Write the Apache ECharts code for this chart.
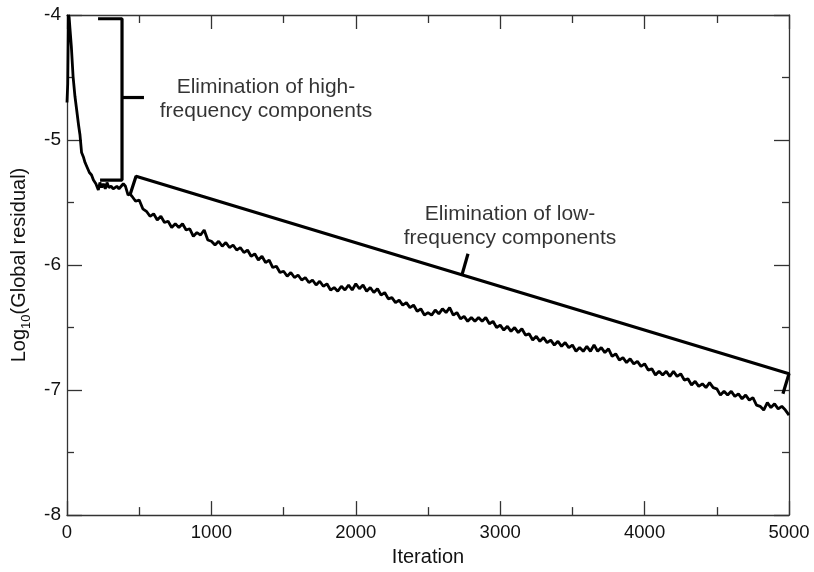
<!DOCTYPE html>
<html><head><meta charset="utf-8">
<script src="https://cdn.jsdelivr.net/npm/echarts@6/dist/echarts.min.js"></script>
<style>html,body{margin:0;padding:0;background:#fff}#c{width:814px;height:572px}</style>
</head><body><div id="c"></div>
<script>
// ---- data ----
const iterations = [0,5,10,15,20,30,42,55,66,80,90,101,115,125,140,155,170,183,200,217,228,240,252,265,277,290,305,320,332,345,360,375,390,405,423,437,
450,475,500,525,550,575,600,625,650,675,700,725,750,775,800,825,850,875,900,925,950,975,
1000,1025,1050,1075,1100,1125,1150,1175,1200,1225,1250,1275,1300,1325,1350,1375,1400,1425,1450,1475,1500,1525,1550,1575,1600,1625,1650,1675,1700,1725,1750,1775,1800,1825,1850,1875,1900,1925,1950,1975,
2000,2025,2050,2075,2100,2125,2150,2175,2200,2225,2250,2275,2300,2325,2350,2375,2400,2425,2450,2475,2500,2525,2550,2575,2600,2625,2650,2675,2700,2725,2750,2775,2800,2825,2850,2875,2900,2925,2950,2975,
3000,3025,3050,3075,3100,3125,3150,3175,3200,3225,3250,3275,3300,3325,3350,3375,3400,3425,3450,3475,3500,3525,3550,3575,3600,3625,3650,3675,3700,3725,3750,3775,3800,3825,3850,3875,3900,3925,3950,3975,
4000,4025,4050,4075,4100,4125,4150,4175,4200,4225,4250,4275,4300,4325,4350,4375,4400,4425,4450,4475,4500,4525,4550,4575,4600,4625,4650,4675,4700,4725,4750,4775,4800,4825,4850,4875,4900,4925,4950,4975,5000];
const residual = [-4.70,-4.55,-4.00,-4.02,-4.10,-4.25,-4.49,-4.65,-4.75,-4.88,-4.96,-5.10,-5.14,-5.18,-5.22,-5.26,-5.28,-5.32,-5.35,-5.40,-5.34,-5.38,-5.35,-5.39,-5.34,-5.38,-5.37,-5.39,-5.40,-5.37,-5.39,-5.37,-5.35,-5.37,-5.44,-5.43,
-5.45,-5.49,-5.48,-5.55,-5.57,-5.61,-5.59,-5.64,-5.61,-5.66,-5.65,-5.70,-5.67,-5.70,-5.67,-5.72,-5.71,-5.77,-5.74,-5.76,-5.72,-5.80,
-5.81,-5.84,-5.81,-5.85,-5.82,-5.86,-5.84,-5.88,-5.86,-5.90,-5.88,-5.93,-5.91,-5.96,-5.93,-5.98,-5.96,-6.02,-6.01,-6.06,-6.05,-6.09,-6.06,-6.10,-6.08,-6.12,-6.10,-6.14,-6.12,-6.16,-6.13,-6.17,-6.15,-6.20,-6.18,-6.21,-6.17,-6.20,-6.16,-6.20,
-6.15,-6.19,-6.16,-6.21,-6.18,-6.22,-6.19,-6.24,-6.22,-6.27,-6.26,-6.30,-6.28,-6.32,-6.30,-6.34,-6.32,-6.37,-6.35,-6.40,-6.38,-6.40,-6.36,-6.39,-6.35,-6.38,-6.34,-6.40,-6.38,-6.43,-6.41,-6.45,-6.42,-6.45,-6.42,-6.45,-6.42,-6.47,-6.45,-6.50,
-6.48,-6.52,-6.49,-6.53,-6.50,-6.54,-6.51,-6.56,-6.55,-6.60,-6.57,-6.61,-6.58,-6.62,-6.60,-6.64,-6.61,-6.65,-6.62,-6.66,-6.64,-6.69,-6.66,-6.69,-6.65,-6.69,-6.64,-6.69,-6.66,-6.70,-6.67,-6.73,-6.71,-6.76,-6.74,-6.78,-6.75,-6.79,-6.77,-6.81,
-6.79,-6.84,-6.83,-6.88,-6.85,-6.88,-6.85,-6.89,-6.85,-6.89,-6.87,-6.92,-6.91,-6.96,-6.93,-6.97,-6.95,-6.98,-6.94,-6.98,-6.99,-7.04,-7.01,-7.04,-7.01,-7.05,-7.03,-7.07,-7.04,-7.08,-7.06,-7.12,-7.13,-7.16,-7.10,-7.14,-7.11,-7.15,-7.13,-7.16,-7.20];

const xTicks = [0,1000,2000,3000,4000,5000];
const yTicks = [-8,-7,-6,-5,-4];

// annotation shapes (data coordinates)
const highBracket = [[215,-4.03],[381,-4.03],[381,-5.32],[229,-5.32]];
const highBracketTick = [[381,-4.66],[533,-4.66]];
const lowBracket = [[436,-5.44],[478,-5.29],[5000,-6.87],[4958,-7.03]];
const lowBracketTick = [[2735,-6.08],[2777,-5.91]];
const annotationTexts = ['Elimination of high-\nfrequency components','Elimination of low-\nfrequency components'];
const annotationAnchors = [[1378,-4.672],[3068,-5.688]];

const chart = echarts.init(document.getElementById('c'), null, {renderer:'canvas'});
const FONT = 'Liberation Sans, Arial, Helvetica, sans-serif';
const AX = '#333';
const lineData = iterations.map((v,i)=>[v,residual[i]]);

function axisCommon(){
  return {
    axisLine:{show:true,onZero:false,lineStyle:{color:AX,width:1.3}},
    splitLine:{show:false},
    minorSplitLine:{show:false}
  };
}
const xBase = Object.assign(axisCommon(),{type:'value',min:xTicks[0],max:xTicks[xTicks.length-1],interval:1000,
  axisTick:{show:true,inside:true,length:14,lineStyle:{color:AX,width:1.3}},
  minorTick:{show:true,splitNumber:2,length:8,lineStyle:{color:AX,width:1.3}}});
const yBase = Object.assign(axisCommon(),{type:'value',min:yTicks[0],max:yTicks[yTicks.length-1],interval:1,
  axisTick:{show:true,inside:true,length:15,lineStyle:{color:AX,width:1.3}},
  minorTick:{show:true,splitNumber:2,length:7,lineStyle:{color:AX,width:1.3}}});

function bracketSeries(pts){
  return {type:'line',data:pts,symbol:'none',clip:false,silent:true,animation:false,
    lineStyle:{color:'#000',width:3.2},z:3};
}

chart.setOption({
  animation:false,
  backgroundColor:'#fff',
  grid:{left:67,right:25,top:15,bottom:51,containLabel:false},
  xAxis:[
    Object.assign({},xBase,{position:'bottom',
      axisLabel:{show:true,margin:8,fontSize:18.5,color:'#111',fontFamily:FONT,formatter:v=>String(v)},
      name:'Iteration',nameLocation:'middle',nameGap:26,
      nameTextStyle:{fontSize:20,color:'#111',fontFamily:FONT}}),
    Object.assign({},xBase,{position:'top',axisLabel:{show:false}})
  ],
  yAxis:[
    Object.assign({},yBase,{position:'left',
      axisLabel:{show:true,margin:6,fontSize:19,color:'#111',fontFamily:FONT,formatter:v=>String(v),padding:[4,0,0,0]},
      name:'{n|Log}{s|10}{n|(Global residual)}',nameLocation:'middle',nameGap:34,
      nameTextStyle:{color:'#111',fontFamily:FONT,
        rich:{n:{fontSize:20,color:'#111',fontFamily:FONT,lineHeight:28,verticalAlign:'middle'},
              s:{fontSize:13,color:'#111',fontFamily:FONT,lineHeight:28,verticalAlign:'bottom'}}}}),
    Object.assign({},yBase,{position:'right',axisLabel:{show:false}})
  ],
  series:[
    {type:'line',data:lineData,symbol:'none',clip:false,smooth:false,
      lineStyle:{color:'#000',width:2.8},z:4},
    bracketSeries(highBracket),
    bracketSeries(highBracketTick),
    bracketSeries(lowBracket),
    bracketSeries(lowBracketTick),
    {type:'scatter',symbolSize:0,silent:true,z:5,
      data:annotationAnchors.map((p,i)=>({value:p,label:{formatter:annotationTexts[i]}})),
      label:{show:true,position:'inside',fontSize:21,lineHeight:24,color:'#000',fontFamily:FONT,align:'center',verticalAlign:'middle'}}
  ]
});
</script></body></html>
